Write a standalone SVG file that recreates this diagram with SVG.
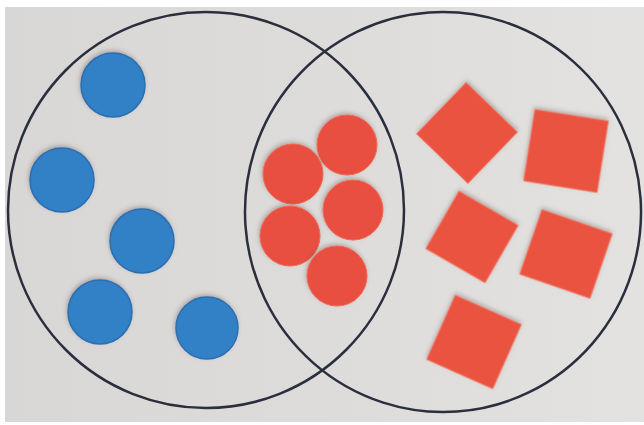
<svg xmlns="http://www.w3.org/2000/svg" width="644" height="425" viewBox="0 0 644 425">
  <defs>
    <linearGradient id="bg" x1="0" y1="0" x2="1" y2="0">
      <stop offset="0" stop-color="#d9d7d6"/>
      <stop offset="0.5" stop-color="#dedcdb"/>
      <stop offset="1" stop-color="#e3e2e0"/>
    </linearGradient>
    <filter id="sh" x="-30%" y="-30%" width="160%" height="160%">
      <feDropShadow dx="-1" dy="-2" stdDeviation="2" flood-color="#5a4a40" flood-opacity="0.35"/>
    </filter>
    <rect id="sq" x="-36" y="-36" width="72" height="72"/>
  </defs>
  <style>
    .ring { fill: none; stroke: #2b2f3d; stroke-width: 2.5; }
    .blue { fill: #3280c6; stroke: #2a6fb1; stroke-width: 1.5; filter: url(#sh); }
    .red { fill: #e8503f; stroke: #f06a55; stroke-width: 1; filter: url(#sh); }
    .sqr { fill: #e9533f; stroke: #f26d58; stroke-width: 1; filter: url(#sh); }
  </style>
  <rect x="0" y="0" width="644" height="425" fill="#ffffff"/>
  <rect x="5" y="7" width="639" height="415" fill="url(#bg)"/>

  <g id="sets">
    <ellipse id="setA" class="ring" cx="206" cy="210" rx="198" ry="198"/>
    <ellipse id="setB" class="ring" cx="443" cy="212" rx="198" ry="200" transform="rotate(-4 443 212)"/>
  </g>

  <g id="blue-discs">
    <circle class="blue" cx="113" cy="85" r="32"/>
    <circle class="blue" cx="62" cy="180" r="32"/>
    <circle class="blue" cx="142" cy="241" r="32"/>
    <circle class="blue" cx="100" cy="312" r="32"/>
    <circle class="blue" cx="207" cy="328" r="31"/>
  </g>

  <g id="red-discs">
    <circle class="red" cx="347" cy="145" r="30"/>
    <circle class="red" cx="293" cy="174" r="30"/>
    <circle class="red" cx="353" cy="210" r="30"/>
    <circle class="red" cx="290" cy="236" r="30"/>
    <circle class="red" cx="337" cy="276" r="30"/>
  </g>

  <g id="red-squares">
    <rect class="sqr" x="-35.5" y="-35.5" width="71" height="71" transform="translate(467 133) rotate(44)"/>
    <rect class="sqr" x="-37" y="-36" width="74" height="72" transform="translate(566 151) rotate(9)"/>
    <rect class="sqr" x="-34" y="-33" width="68" height="66" transform="translate(472 237) rotate(30)"/>
    <rect class="sqr" x="-37" y="-34" width="74" height="68" transform="translate(566 254) rotate(19)"/>
    <rect class="sqr" x="-36" y="-35" width="72" height="70" transform="translate(474 342) rotate(24)"/>
  </g>
</svg>
